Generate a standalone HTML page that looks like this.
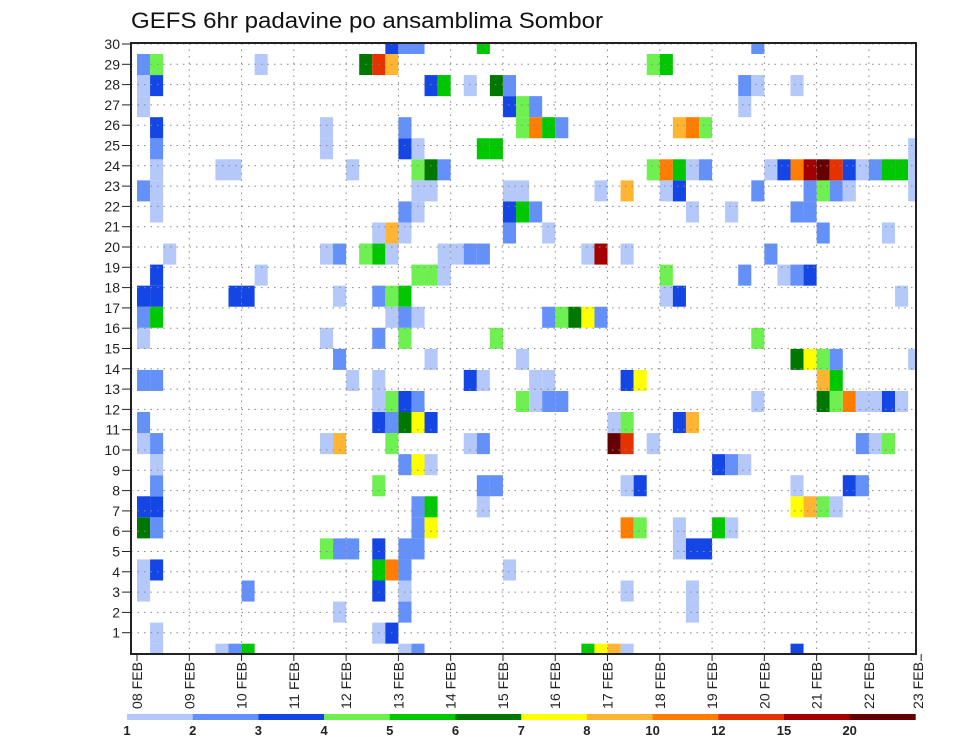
<!DOCTYPE html>
<html>
<head>
<meta charset="utf-8">
<style>
  html, body { margin: 0; padding: 0; background: #ffffff; }
  body { width: 960px; height: 742px; overflow: hidden; }
  svg { display: block; font-family: "Liberation Sans", "DejaVu Sans", sans-serif; }
</style>
</head>
<body>
<svg id="chart" width="960" height="742" viewBox="0 0 960 742" xmlns="http://www.w3.org/2000/svg">
  <text x="131" y="28" font-size="22" textLength="472" lengthAdjust="spacingAndGlyphs" fill="#111">GEFS 6hr padavine po ansamblima Sombor</text>
  <g id="cells"></g>
  <g id="grid"></g>
  <g id="axes"></g>
  <g id="legend"></g>
</svg>
<script>
// ---- data: [6h step index from 08 FEB 00z, precip class value] per ensemble member ----
const member30 = [[19,3],[20,2],[21,2],[26,5],[47,2]];
const member29 = [[0,2],[1,4],[9,1],[17,6],[18,12],[19,8],[39,4],[40,5]];
const member28 = [[0,1],[1,3],[22,3],[23,5],[25,1],[27,6],[28,2],[46,2],[47,1],[50,1]];
const member27 = [[0,1],[28,3],[29,4],[30,2],[46,1]];
const member26 = [[1,3],[14,1],[20,2],[29,4],[30,10],[31,5],[32,2],[41,8],[42,10],[43,4]];
const member25 = [[1,2],[14,1],[20,3],[21,1],[26,5],[27,5],[59,1]];
const member24 = [[1,1],[6,1],[7,1],[16,1],[21,4],[22,6],[23,2],[39,4],[40,10],[41,5],[42,1],[43,2],[48,1],[49,3],[50,10],[51,15],[52,20],[53,12],[54,3],[55,1],[56,2],[57,5],[58,5],[59,1]];
const member23 = [[0,2],[1,1],[21,1],[22,1],[28,1],[29,1],[35,1],[37,8],[40,1],[41,3],[47,2],[51,2],[52,4],[53,2],[54,1],[59,1]];
const member22 = [[1,1],[20,2],[21,1],[28,3],[29,5],[30,2],[42,1],[45,1],[50,2],[51,2]];
const member21 = [[18,1],[19,8],[20,1],[28,2],[31,1],[52,2],[57,1]];
const member20 = [[2,1],[14,1],[15,2],[17,4],[18,5],[19,1],[23,1],[24,1],[25,2],[26,2],[34,1],[35,15],[37,1],[48,2]];
const member19 = [[1,3],[9,1],[21,4],[22,4],[23,1],[40,4],[46,2],[49,1],[50,2],[51,3]];
const member18 = [[0,3],[1,3],[7,3],[8,3],[15,1],[18,2],[19,4],[20,5],[40,1],[41,3],[58,1]];
const member17 = [[0,2],[1,5],[19,1],[20,2],[21,1],[31,2],[32,4],[33,6],[34,7],[35,2]];
const member16 = [[0,1],[14,1],[18,2],[20,4],[27,4],[47,4]];
const member15 = [[15,2],[22,1],[29,1],[50,6],[51,7],[52,4],[53,2],[59,1]];
const member14 = [[0,2],[1,2],[16,1],[18,1],[25,3],[26,1],[30,1],[31,1],[37,3],[38,7],[52,8],[53,5]];
const member13 = [[18,1],[19,4],[20,3],[21,2],[29,4],[30,1],[31,2],[32,2],[47,1],[52,6],[53,4],[54,10],[55,1],[56,1],[57,3],[58,1]];
const member12 = [[0,2],[18,3],[19,2],[20,6],[21,7],[22,3],[36,1],[37,4],[41,3],[42,8]];
const member11 = [[0,1],[1,2],[14,1],[15,8],[19,4],[25,1],[26,2],[36,20],[37,12],[39,1],[55,2],[56,1],[57,4]];
const member10 = [[1,1],[20,2],[21,7],[22,1],[44,3],[45,2],[46,1]];
const member9  = [[1,2],[18,4],[26,2],[27,2],[37,1],[38,3],[50,1],[54,3],[55,2]];
const member8  = [[0,3],[1,3],[21,2],[22,5],[26,1],[50,7],[51,8],[52,4],[53,1]];
const member7  = [[0,6],[1,2],[21,2],[22,7],[37,10],[38,4],[41,1],[44,5],[45,1]];
const member6  = [[14,4],[15,2],[16,2],[18,3],[20,2],[21,2],[41,1],[42,3],[43,3]];
const member5  = [[0,1],[1,3],[18,5],[19,10],[20,2],[28,1]];
const member4  = [[0,1],[8,2],[18,3],[20,1],[37,1],[42,1]];
const member3  = [[15,1],[20,2],[42,1]];
const member2  = [[1,1],[18,1],[19,3]];
const member1  = [[1,1],[6,1],[7,2],[8,5],[20,1],[21,2],[34,5],[35,7],[36,8],[37,1],[50,3]];
const memberRows = [member1,member2,member3,member4,member5,member6,member7,member8,member9,member10,
  member11,member12,member13,member14,member15,member16,member17,member18,member19,member20,
  member21,member22,member23,member24,member25,member26,member27,member28,member29,member30];

const dayLabels = ["08 FEB","09 FEB","10 FEB","11 FEB","12 FEB","13 FEB","14 FEB","15 FEB","16 FEB","17 FEB","18 FEB","19 FEB","20 FEB","21 FEB","22 FEB","23 FEB"];
const yTicks = [1,2,3,4,5,6,7,8,9,10,11,12,13,14,15,16,17,18,19,20,21,22,23,24,25,26,27,28,29,30];
const levelValues = [1,2,3,4,5,6,7,8,10,12,15,20];
const levelColors = ["#b4c8fa","#6490fa","#1446e6","#6ef050","#00c800","#007800","#ffff00","#ffb432","#ff7d00","#e63200","#a50000","#640000"];

// ---- geometry ----
const NS = "http://www.w3.org/2000/svg";
const frame = {l:131, t:43, r:916, b:654};
const x0 = 137, dayPx = 52.28, stepPx = dayPx/4;
function xDay(d){ return x0 + d*dayPx; }
function xStep(s){ return x0 + s*stepPx; }
const cellH = 21.06;
function yMemberTop(m){ return 54 + (29 - m)*cellH; }
function yTick(v){ return 44 + (30 - v)*20.3; }
function colorFor(v){
  let c = levelColors[0];
  for (let i=0;i<levelValues.length;i++){ if (v >= levelValues[i]) c = levelColors[i]; }
  return c;
}
function mk(tag, attrs, parent){
  const e = document.createElementNS(NS, tag);
  for (const k in attrs) e.setAttribute(k, attrs[k]);
  parent.appendChild(e); return e;
}

// ---- cells ----
const cellsG = document.getElementById('cells');
memberRows.forEach((row, i) => {
  const m = i + 1;
  row.forEach(([s, v]) => {
    let xa = xStep(s), xb = xStep(s+1);
    let ya = yMemberTop(m), yb = ya + cellH;
    xa = Math.max(xa, frame.l); xb = Math.min(xb, frame.r);
    ya = Math.max(ya, frame.t); yb = Math.min(yb, frame.b - 1);
    if (xb <= xa || yb <= ya) return;
    const r = mk('rect', {x:xa.toFixed(2), y:ya.toFixed(2), width:(xb-xa).toFixed(2), height:(yb-ya).toFixed(2), fill:colorFor(v)}, cellsG);
    
    
  });
});

// ---- grid ----
const gridG = document.getElementById('grid');
for (let d=1; d<dayLabels.length-1; d++){
  const l = mk('line', {x1:xDay(d), x2:xDay(d), y1:frame.t, y2:frame.b, stroke:'#888', 'stroke-width':1, 'stroke-dasharray':'1.5 5'}, gridG);
  
  
}
yTicks.forEach(v => {
  const y = yTick(v);
  const l = mk('line', {x1:frame.l, x2:frame.r, y1:y, y2:y, stroke:'#888', 'stroke-width':1, 'stroke-dasharray':'1.5 5'}, gridG);
  
  
});

// ---- axes ----
const axG = document.getElementById('axes');
const fr = mk('rect', {x:frame.l, y:frame.t, width:frame.r-frame.l, height:frame.b-frame.t, fill:'none', stroke:'#222', 'stroke-width':2}, axG);


yTicks.forEach(v => {
  const y = yTick(v);
  const t = mk('line', {x1:122, x2:frame.l, y1:y, y2:y, stroke:'#222', 'stroke-width':1}, axG);
  
  
  const lb = mk('text', {x:120, y:y+5, 'font-size':14, 'text-anchor':'end', fill:'#222'}, axG);
  lb.textContent = v;
  
  
});
dayLabels.forEach((lab, d) => {
  const x = xDay(d);
  const t = mk('line', {x1:x, x2:x, y1:frame.b, y2:frame.b+7, stroke:'#222', 'stroke-width':1}, axG);
  
  
  const lx = d === dayLabels.length-1 ? Math.min(x, 918) : x;
  const tx = mk('text', {transform:'translate(' + (lx+5) + ',709) rotate(-90)', 'font-size':14, fill:'#222', textLength:47, lengthAdjust:'spacingAndGlyphs'}, axG);
  tx.textContent = lab;
  
  
});

// ---- legend ----
const lgG = document.getElementById('legend');
const lgX0 = 127, lgW = 65.7, lgY = 714, lgH = 6;
levelColors.forEach((c, i) => {
  const r = mk('rect', {x:lgX0 + i*lgW, y:lgY, width:lgW+0.3, height:lgH, fill:c}, lgG);
  
  
});
levelValues.forEach((v, i) => {
  const t = mk('text', {x:lgX0 + i*lgW, y:735, 'font-size':13, 'font-weight':'bold', 'text-anchor':'middle', fill:'#222'}, lgG);
  t.textContent = v;
  
  
});
</script>
</body>
</html>
